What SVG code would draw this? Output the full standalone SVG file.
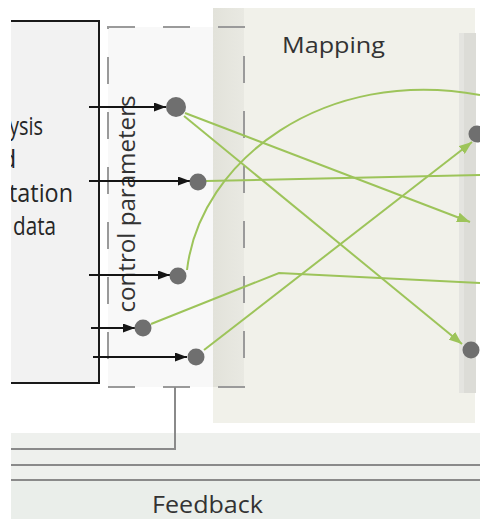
<svg xmlns="http://www.w3.org/2000/svg" width="480" height="519" viewBox="0 0 480 519">
  <defs>
    <style>
      .txt { font-family: "Open Sans", "Liberation Sans", sans-serif; fill: #333333; }
      .big { font-size: 25px; fill: #262626; }
      .blk { stroke: #151515; stroke-width: 2; fill: none; marker-end: url(#ah-black); }
      .grn { stroke: #9dc45a; stroke-width: 2; fill: none; }
      .grn-a { stroke: #9dc45a; stroke-width: 2; fill: none; marker-end: url(#ah-green); }
      .node { fill: #6f6f6f; }
      .dash { fill: none; stroke: #9a9a9a; stroke-width: 2; stroke-dasharray: 27 28; }
      .gline { stroke: #8a8a8a; stroke-width: 2; fill: none; }
    </style>
    <marker id="ah-black" markerUnits="userSpaceOnUse" markerWidth="13" markerHeight="9" refX="12" refY="4.5" orient="auto">
      <path d="M0,0 L12,4.5 L0,9 z" fill="#151515"/>
    </marker>
    <marker id="ah-green" markerUnits="userSpaceOnUse" markerWidth="14" markerHeight="10" refX="13" refY="5" orient="auto">
      <path d="M0,0 L13,5 L0,10 z" fill="#9dc45a"/>
    </marker>
    <linearGradient id="strip" x1="0" y1="0" x2="1" y2="0">
      <stop offset="0" stop-color="#e2e2da"/>
      <stop offset="1" stop-color="#e9e9e2"/>
    </linearGradient>
    <clipPath id="clipL">
      <rect x="11" y="0" width="469" height="519"/>
    </clipPath>
  </defs>

  <rect x="0" y="0" width="480" height="519" fill="#ffffff"/>

  <g clip-path="url(#clipL)">
    <g id="feedback">
      <rect x="11" y="433" width="469" height="86" fill="#eef0ed"/>
      <rect x="11" y="481" width="469" height="38" fill="#eaeeea"/>
      <line class="gline" x1="11" y1="465" x2="480" y2="465"/>
      <line class="gline" x1="11" y1="480" x2="480" y2="480"/>
      <text class="txt" x="152" y="513" font-size="24" textLength="111" lengthAdjust="spacingAndGlyphs">Feedback</text>
    </g>

    <g id="mapping">
      <rect x="213" y="8" width="262" height="415" fill="#f1f1ea"/>
      <rect x="213" y="8" width="31" height="379" fill="url(#strip)"/>
      <rect x="459" y="33" width="17" height="360" fill="#dcdcd7"/>
      <rect x="459" y="33" width="5" height="360" fill="#e4e4e0"/>
      <text class="txt" x="282" y="53" font-size="22" textLength="103" lengthAdjust="spacingAndGlyphs">Mapping</text>
    </g>

    <g id="analysis">
      <rect x="0" y="21" width="99" height="362" fill="#f2f2f2"/>
      <path d="M0,21 H99 V383 H0" fill="none" stroke="#1a1a1a" stroke-width="2"/>
      <text class="txt big" x="9" y="135" textLength="34" lengthAdjust="spacingAndGlyphs">ysis</text>
      <text class="txt big" x="1" y="168">d</text>
      <text class="txt big" x="9" y="202" textLength="64" lengthAdjust="spacingAndGlyphs">tation</text>
      <text class="txt big" x="13" y="235" textLength="43" lengthAdjust="spacingAndGlyphs">data</text>
    </g>

    <g id="control-parameters">
      <rect x="108" y="27" width="136" height="360" fill="#f7f7f7" fill-opacity="0.85"/>
      <rect x="213" y="27" width="31" height="360" fill="url(#strip)"/>
      <rect class="dash" x="108" y="27" width="136" height="360"/>
      <text class="txt" font-size="24" text-anchor="middle" transform="translate(135,204) rotate(-90)" textLength="217" lengthAdjust="spacingAndGlyphs">control parameters</text>
    </g>

    <g id="connectors">
      <polyline class="gline" points="175,387 175,449 11,449"/>
      <line class="blk" x1="89" y1="107" x2="166" y2="107"/>
      <line class="blk" x1="89" y1="181" x2="190" y2="181"/>
      <line class="blk" x1="89" y1="275" x2="170" y2="275"/>
      <line class="blk" x1="91" y1="328" x2="135" y2="328"/>
      <line class="blk" x1="93" y1="357" x2="187" y2="357"/>
      <line class="grn-a" x1="185" y1="113" x2="470" y2="222"/>
      <line class="grn-a" x1="184" y1="116" x2="462" y2="344"/>
      <line class="grn-a" x1="204" y1="350" x2="472" y2="142"/>
      <line class="grn" x1="206" y1="181" x2="480" y2="175"/>
      <path class="grn" d="M187,270 C200,160 325,66 480,95"/>
      <polyline class="grn" points="151,324 279,273 480,283"/>
    </g>

    <g id="node-c1"><circle class="node" cx="176" cy="107" r="10"/></g>
    <g id="node-c2"><circle class="node" cx="198" cy="182" r="8.5"/></g>
    <g id="node-c3"><circle class="node" cx="178" cy="276" r="8.5"/></g>
    <g id="node-c4"><circle class="node" cx="143" cy="328" r="8.5"/></g>
    <g id="node-c5"><circle class="node" cx="196" cy="357" r="8.5"/></g>
    <g id="node-m1"><circle class="node" cx="477" cy="134" r="8.5"/></g>
    <g id="node-m2"><circle class="node" cx="471" cy="350" r="8.5"/></g>
  </g>
</svg>
